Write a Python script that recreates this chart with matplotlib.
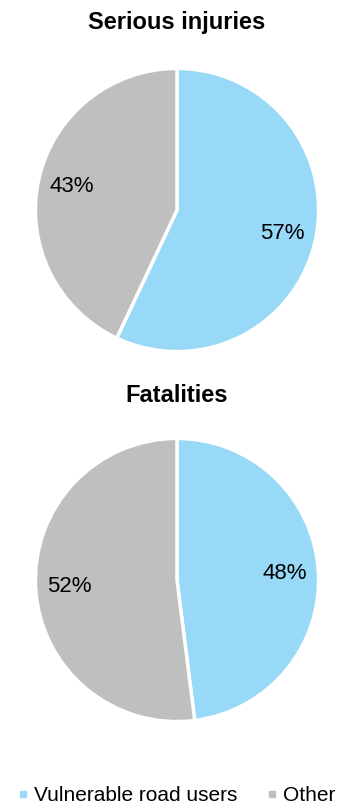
import numpy as np
import matplotlib.pyplot as plt
from matplotlib.lines import Line2D

plt.rcParams['font.family'] = ['Liberation Sans', 'DejaVu Sans']

categories = ["Vulnerable road users", "Other"]
titles = ["Serious injuries", "Fatalities"]
injuries = [57, 43]
fatalities = [48, 52]
colours = ["#97D9F7", "#BFBFBF"]

fig = plt.figure(figsize=(3.41, 8.08), dpi=100)

boxes = [[34/341, (808-353)/808, 286/341, 286/808],
         [34/341, (808-723)/808, 286/341, 286/808]]
title_pads = [27.5, 25]

for box, title, values, pad in zip(boxes, titles, [injuries, fatalities], title_pads):
    ax = fig.add_axes(box)
    wedges, _ = ax.pie(values, colors=colours, startangle=90, counterclock=False,
                       wedgeprops=dict(edgecolor="white", linewidth=2.5))
    for w, v in zip(wedges, values):
        mid = np.deg2rad((w.theta1 + w.theta2) / 2)
        ax.text(0.76*np.cos(mid), 0.76*np.sin(mid), f"{v}%", ha="center", va="center", fontsize=16)
    ax.set_xlim(-1.01, 1.01)
    ax.set_ylim(-1.01, 1.01)
    ax.set_aspect("equal")
    ax.set_title(title, fontsize=17, fontweight="bold", pad=pad)

handles = [Line2D([], [], marker="s", linestyle="none", markersize=5,
                  markerfacecolor=c, markeredgecolor=c) for c in colours]
fig.legend(handles, categories, loc="lower center", bbox_to_anchor=(0.515, -0.02), ncol=2,
           frameon=False, fontsize=15, handletextpad=0.2, columnspacing=1.3, handlelength=0.7)

fig.savefig("out.png", dpi=100)
